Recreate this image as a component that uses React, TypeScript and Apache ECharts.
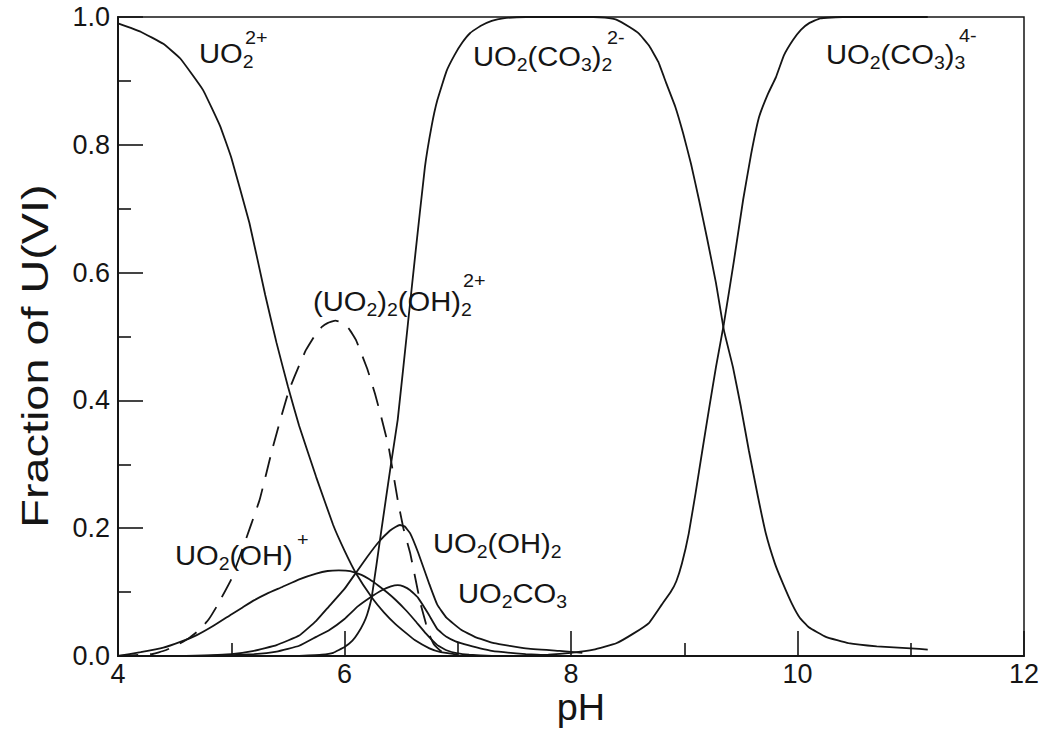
import React, { useEffect, useRef } from "react";
import * as echarts from "echarts";

// pH (x) vs fraction of U(VI) (y)
const xTicks = [4, 6, 8, 10, 12];
const yTicks = [0, 0.2, 0.4, 0.6, 0.8, 1.0];

const uo2 = [
  [4.0, 0.99], [4.2, 0.977], [4.4, 0.958], [4.55, 0.935], [4.75, 0.886], [4.9, 0.83],
  [5.0, 0.78], [5.16, 0.678], [5.3, 0.565], [5.4, 0.49], [5.5, 0.422], [5.6, 0.36],
  [5.75, 0.28], [5.9, 0.205], [6.0, 0.165], [6.1, 0.13], [6.24, 0.092], [6.35, 0.068],
  [6.45, 0.05], [6.55, 0.035], [6.62, 0.025], [6.75, 0.012], [6.85, 0.006], [7.0, 0.002],
];

const uo2oh = [
  [4.0, 0.0], [4.2, 0.006], [4.4, 0.013], [4.55, 0.022], [4.7, 0.033], [4.85, 0.048],
  [5.0, 0.065], [5.1, 0.076], [5.2, 0.087], [5.32, 0.098], [5.45, 0.108], [5.6, 0.12],
  [5.75, 0.129], [5.85, 0.133], [5.95, 0.134], [6.05, 0.133], [6.15, 0.127], [6.22, 0.12],
  [6.3, 0.11], [6.38, 0.099], [6.45, 0.088], [6.54, 0.072], [6.62, 0.056], [6.72, 0.035],
  [6.82, 0.017], [6.9, 0.009], [7.0, 0.004], [7.1, 0.002], [7.3, 0.0],
];

const dimer = [
  [4.0, 0.0], [4.3, 0.003], [4.42, 0.009], [4.52, 0.017], [4.62, 0.027], [4.72, 0.041],
  [4.8, 0.057], [4.87, 0.077], [5.0, 0.12], [5.1, 0.168], [5.25, 0.244], [5.36, 0.322],
  [5.45, 0.38], [5.51, 0.416], [5.6, 0.455], [5.66, 0.479], [5.75, 0.505], [5.8, 0.515],
  [5.85, 0.521], [5.92, 0.525], [5.98, 0.522], [6.04, 0.512], [6.1, 0.495], [6.2, 0.45],
  [6.27, 0.41], [6.33, 0.37], [6.39, 0.327], [6.47, 0.244], [6.52, 0.2], [6.58, 0.161],
  [6.67, 0.083], [6.72, 0.05], [6.75, 0.033], [6.79, 0.018], [6.85, 0.008], [6.92, 0.003],
  [7.0, 0.0],
];

const uo2oh2 = [
  [4.6, 0.0], [5.0, 0.003], [5.2, 0.008], [5.4, 0.017], [5.6, 0.032], [5.75, 0.055],
  [5.86, 0.077], [6.0, 0.105], [6.1, 0.13], [6.2, 0.155], [6.3, 0.178], [6.4, 0.196],
  [6.45, 0.202], [6.49, 0.205], [6.53, 0.203], [6.58, 0.192], [6.65, 0.162], [6.75, 0.112],
  [6.82, 0.08], [6.9, 0.06], [7.03, 0.041], [7.15, 0.03], [7.32, 0.02], [7.6, 0.012],
  [7.9, 0.008], [8.1, 0.005],
];

const uo2co3 = [
  [4.8, 0.0], [5.2, 0.003], [5.4, 0.007], [5.6, 0.016], [5.75, 0.03], [5.86, 0.04],
  [6.0, 0.058], [6.12, 0.078], [6.23, 0.092], [6.33, 0.103], [6.41, 0.109], [6.47, 0.111],
  [6.52, 0.109], [6.58, 0.103], [6.65, 0.091], [6.74, 0.066], [6.82, 0.042], [6.9, 0.03],
  [6.98, 0.023], [7.09, 0.017], [7.3, 0.008], [7.6, 0.003], [7.8, 0.001],
];

const dicarb = [
  [5.6, 0.0], [5.8, 0.002], [5.9, 0.005], [6.0, 0.014], [6.07, 0.024], [6.12, 0.036],
  [6.17, 0.052], [6.2, 0.065], [6.24, 0.092], [6.28, 0.14], [6.32, 0.19], [6.41, 0.3],
  [6.47, 0.37], [6.56, 0.52], [6.62, 0.62], [6.71, 0.765], [6.77, 0.83], [6.82, 0.87],
  [6.9, 0.915], [6.97, 0.94], [7.04, 0.96], [7.11, 0.975], [7.2, 0.986], [7.3, 0.994],
  [7.4, 0.998], [7.6, 1.0], [8.2, 1.0], [8.3, 0.999], [8.4, 0.996], [8.52, 0.984],
  [8.6, 0.974], [8.69, 0.955], [8.77, 0.93], [8.84, 0.897], [8.92, 0.86], [8.99, 0.818],
  [9.06, 0.77], [9.13, 0.714], [9.2, 0.655], [9.28, 0.584], [9.35, 0.51], [9.43, 0.452],
  [9.5, 0.39], [9.57, 0.322], [9.65, 0.25], [9.72, 0.192], [9.8, 0.145], [9.87, 0.114],
  [9.95, 0.082], [10.02, 0.06], [10.1, 0.045], [10.25, 0.03], [10.45, 0.02], [10.7, 0.015],
  [11.0, 0.012], [11.15, 0.01],
];

const tricarb = [
  [7.6, 0.0], [7.8, 0.002], [8.0, 0.005], [8.2, 0.01], [8.4, 0.02], [8.55, 0.035],
  [8.69, 0.052], [8.8, 0.08], [8.88, 0.1], [8.93, 0.117], [8.98, 0.145], [9.04, 0.192],
  [9.1, 0.255], [9.16, 0.322], [9.22, 0.388], [9.28, 0.452], [9.35, 0.52], [9.44, 0.62],
  [9.52, 0.714], [9.59, 0.785], [9.66, 0.843], [9.74, 0.88], [9.81, 0.906], [9.88, 0.94],
  [9.96, 0.964], [10.03, 0.98], [10.1, 0.99], [10.2, 0.998], [10.4, 1.0], [11.15, 1.0],
];

const FONT = "'Liberation Sans', Arial, Helvetica, sans-serif";
const INK = "#151515";

export default function App() {
  const ref = useRef<HTMLDivElement>(null);

  useEffect(() => {
    const chart = echarts.init(ref.current!, null, { renderer: "svg" });

    const line = (name: string, data: number[][], dashed = false) => ({
      type: "line",
      name,
      data,
      symbol: "none",
      showSymbol: false,
      smooth: 0.1,
      clip: true,
      lineStyle: { color: INK, width: 1.8, type: dashed ? [20, 12] : "solid" },
      emphasis: { disabled: true },
    });

    const rich = {
      b: { fontSize: 27, lineHeight: 35, verticalAlign: "middle", fontFamily: FONT, fill: INK },
      s: { fontSize: 18, lineHeight: 18, verticalAlign: "bottom", fontFamily: FONT, fill: INK },
    };
    const label = (x: number, y: number, text: string) => ({
      type: "text",
      x,
      y,
      scaleX: 1.08,
      silent: true,
      style: { text, rich, fill: INK, verticalAlign: "top", align: "left" },
    });
    const sup = (x: number, y: number, text: string) => ({
      type: "text",
      x,
      y,
      scaleX: 1.1,
      silent: true,
      style: { text, fill: INK, fontSize: 18, fontFamily: FONT, verticalAlign: "top", align: "left" },
    });

    chart.setOption({
      animation: false,
      backgroundColor: "#ffffff",
      grid: {
        left: 118,
        right: 24,
        top: 17,
        bottom: 81,
        show: true,
        borderColor: INK,
        borderWidth: 1.5,
        containLabel: false,
      },
      xAxis: {
        type: "value",
        min: xTicks[0],
        max: xTicks[xTicks.length - 1],
        interval: 2,
        axisLine: { show: true, lineStyle: { color: INK, width: 2 } },
        axisTick: { show: true, inside: true, length: 25, lineStyle: { color: INK, width: 1.6 } },
        minorTick: { show: true, splitNumber: 2, length: 13, lineStyle: { color: INK, width: 1.6 } },
        axisLabel: { fontSize: 27, fontFamily: FONT, color: INK, margin: 4 },
        splitLine: { show: false },
      },
      yAxis: {
        type: "value",
        min: yTicks[0],
        max: yTicks[yTicks.length - 1],
        interval: 0.2,
        axisLine: { show: true, lineStyle: { color: INK, width: 2 } },
        axisTick: { show: true, inside: true, length: 25, lineStyle: { color: INK, width: 1.6 } },
        minorTick: { show: true, splitNumber: 2, length: 13, lineStyle: { color: INK, width: 1.6 } },
        axisLabel: {
          fontSize: 27,
          fontFamily: FONT,
          color: INK,
          margin: 8,
          formatter: (v: number) => v.toFixed(1),
        },
        splitLine: { show: false },
      },
      series: [
        line("UO2 2+", uo2),
        line("UO2(OH)+", uo2oh),
        line("(UO2)2(OH)2 2+", dimer, true),
        line("UO2(OH)2", uo2oh2),
        line("UO2CO3", uo2co3),
        line("UO2(CO3)2 2-", dicarb),
        line("UO2(CO3)3 4-", tricarb),
      ],
      graphic: [
        {
          type: "text",
          x: 35,
          y: 356,
          rotation: Math.PI / 2,
          scaleX: 1.3,
          silent: true,
          style: {
            text: "Fraction of U(VI)",
            fontSize: 36,
            fontFamily: FONT,
            fill: INK,
            align: "center",
            verticalAlign: "middle",
          },
        },
        {
          type: "text",
          x: 581,
          y: 708,
          scaleX: 1.05,
          silent: true,
          style: {
            text: "pH",
            fontSize: 36,
            fontFamily: FONT,
            fill: INK,
            align: "center",
            verticalAlign: "middle",
          },
        },
        label(199, 36, "{b|UO}{s|2}"),
        sup(245, 29, "2+"),
        label(313, 284, "{b|(UO}{s|2}{b|)}{s|2}{b|(OH)}{s|2}"),
        sup(463, 272, "2+"),
        label(473, 39, "{b|UO}{s|2}{b|(CO}{s|3}{b|)}{s|2}"),
        sup(607, 29, "2-"),
        label(826, 37, "{b|UO}{s|2}{b|(CO}{s|3}{b|)}{s|3}"),
        sup(959, 27, "4-"),
        label(175, 538, "{b|UO}{s|2}{b|(OH)}"),
        sup(297, 531, "+"),
        label(433, 526, "{b|UO}{s|2}{b|(OH)}{s|2}"),
        label(458, 576, "{b|UO}{s|2}{b|CO}{s|3}"),
      ],
    });

    return () => chart.dispose();
  }, []);

  return (
    <div
      ref={ref}
      style={{ position: "absolute", left: 0, top: 0, width: 1048, height: 737 }}
    />
  );
}
